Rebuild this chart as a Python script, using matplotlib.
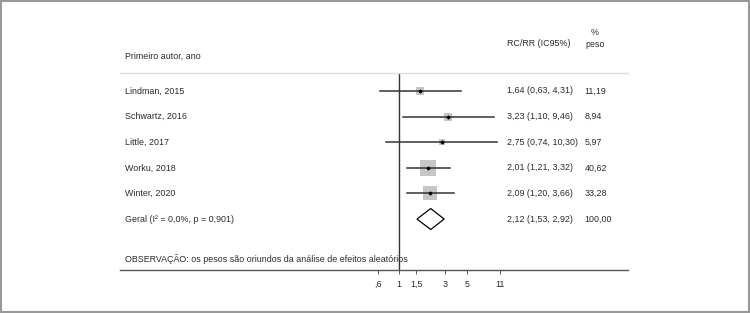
import matplotlib
matplotlib.use("Agg")
from matplotlib import pyplot as plt
from matplotlib.patches import Polygon, Rectangle

plt.rcParams['font.family'] = ['Liberation Sans', 'DejaVu Sans']

# dados do forest plot
estudos = ["Lindman, 2015", "Schwartz, 2016", "Little, 2017", "Worku, 2018", "Winter, 2020"]
rr = [1.64, 3.23, 2.75, 2.01, 2.09]
ic_inf = [0.63, 1.10, 0.74, 1.21, 1.20]
ic_sup = [4.31, 9.46, 10.30, 3.32, 3.66]
peso = [11.19, 8.94, 5.97, 40.62, 33.28]
geral_rr, geral_inf, geral_sup = 2.12, 1.53, 2.92
geral_label = "Geral (I² = 0,0%, p = 0,901)"
ticks = [0.6, 1, 1.5, 3, 5, 11]
tick_labels = [",6", "1", "1,5", "3", "5", "11"]

def br(v):
    return f"{v:.2f}".replace(".", ",")

fs = 6.4
cor_txt = "#2a2a2a"
fig = plt.figure(figsize=(7.5, 3.13), dpi=100)
ax = fig.add_axes([0.16, 0.1374, 0.6773, 0.6294])
ax.set_xscale("log")
ax.set_xlim(0.00132, 230)
ax.set_ylim(6.99, -0.703)
tr = ax.get_yaxis_transform()

# linha nula
ax.axvline(1, color="#333333", lw=1)

for i in range(len(estudos)):
    ax.plot([ic_inf[i], ic_sup[i]], [i, i], color="#333333", lw=1.1, zorder=2)
    ax.scatter(rr[i], i, marker="s", s=2.9 * peso[i], color="#c6c6c6", zorder=1, linewidths=0)
    ax.scatter(rr[i], i, marker="D", s=2, color="black", zorder=3)
    ax.text(0.0098, i, estudos[i], transform=tr, va="center", fontsize=fs, color=cor_txt)
    ax.text(0.762, i, f"{br(rr[i])} ({br(ic_inf[i])}, {br(ic_sup[i])})", transform=tr,
            va="center", fontsize=fs, color=cor_txt)
    ax.text(0.915, i, br(peso[i]), transform=tr, va="center", fontsize=fs, color=cor_txt)

# diamante geral
g = len(estudos)
h = 0.41
ax.add_patch(Polygon([(geral_inf, g), (geral_rr, g - h), (geral_sup, g), (geral_rr, g + h)],
                     closed=True, facecolor="white", edgecolor="black", lw=0.9, zorder=3))
ax.text(0.0098, g, geral_label, transform=tr, va="center", fontsize=fs, color=cor_txt)
ax.text(0.762, g, f"{br(geral_rr)} ({br(geral_inf)}, {br(geral_sup)})", transform=tr,
        va="center", fontsize=fs, color=cor_txt)
ax.text(0.915, g, "100,00", transform=tr, va="center", fontsize=fs, color=cor_txt)

ax.text(0.0098, 6.56, "OBSERVAÇÃO: os pesos são oriundos da análise de efeitos aleatórios",
        transform=tr, va="center", fontsize=fs, color=cor_txt)

# cabeçalhos
ax.text(0.0098, -1.37, "Primeiro autor, ano", transform=tr, va="center", fontsize=fs,
        color=cor_txt, clip_on=False)
ax.text(0.762, -1.84, "RC/RR (IC95%)", transform=tr, va="center", fontsize=fs,
        color=cor_txt, clip_on=False)
ax.text(0.935, -2.27, "%", transform=tr, va="center", ha="center", fontsize=fs,
        color=cor_txt, clip_on=False)
ax.text(0.935, -1.82, "peso", transform=tr, va="center", ha="center", fontsize=fs,
        color=cor_txt, clip_on=False)

# eixos
for s in ["left", "right"]:
    ax.spines[s].set_visible(False)
ax.spines["top"].set_color("#dddddd")
ax.spines["top"].set_linewidth(1)
ax.spines["bottom"].set_color("#555555")
ax.spines["bottom"].set_linewidth(1)
ax.set_yticks([])
ax.set_xticks(ticks)
ax.set_xticklabels(tick_labels)
ax.minorticks_off()
ax.tick_params(axis="x", length=3, width=0.7, color="#555555", labelsize=fs, labelcolor=cor_txt, pad=4)

# moldura
fig.add_artist(Rectangle((0.001, 0.002), 0.997, 0.995, transform=fig.transFigure, fill=False,
                         edgecolor="#999999", lw=1.5))

fig.savefig("out.png", dpi=100)
